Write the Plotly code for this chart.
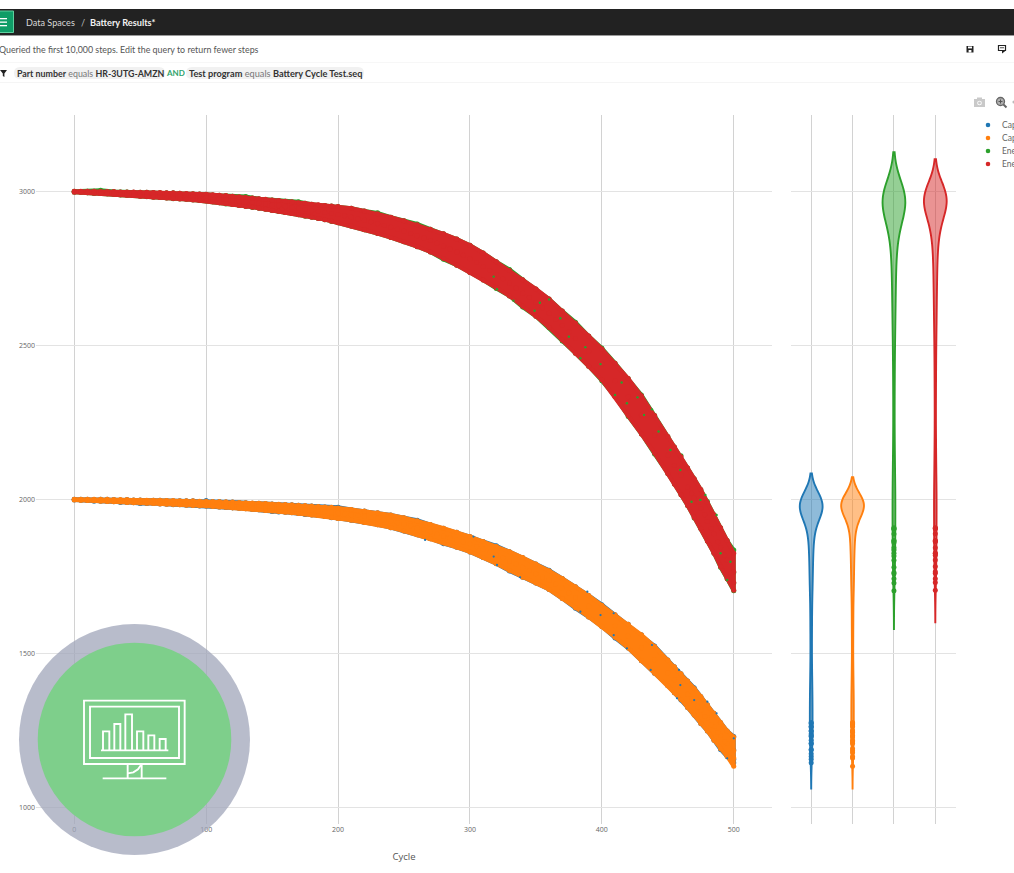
import plotly.graph_objects as go

W, H = 1014, 873

# ---- data -----------------------------------------------------------------------
cycles = [0,10,20,30,40,50,60,70,80,90,100,110,120,130,140,150,160,170,180,190,
          200,210,220,230,240,250,260,270,280,290,300,310,320,330,340,350,360,370,380,390,
          400,410,420,430,440,450,455,460,465,470,475,480,485,490,495,500]
cycles_between = [5,15,25,35,45,55,65,75,85,95,105,115,125,135,145,155,165,175,185,195,
                  205,215,225,235,245,255,265,275,285,295,305,315,325,335,345,355,365,375]
cycles_plateau = [5,15,25,35,45,55,65,75,85,95,105,115,125,135,145,155,165,175,185,195]
cycles_tail = [468,473,478,483,488,493,498,500]

energy_red_upper = [3000,3000,2999,2999,2998,2997,2996,2995,2994,2992,
    2990,2987,2984,2980,2976,2972,2968,2963,2958,2954,
    2951,2945,2936,2927,2916,2904,2891,2877,2862,2845,
    2825,2800,2771,2743,2713,2683,2650,2611,2572,2530,
    2488,2442,2392,2336,2272,2204,2170,2138,2102,2067,2032,1990,1950,1908,1866,1825]
energy_red_mid = [2999,2998,2996,2995,2993,2991,2989,2987,2985,2982,
    2980,2975,2970,2966,2961,2956,2950,2944,2937,2931,
    2925,2916,2906,2895,2883,2870,2856,2840,2822,2803,
    2781,2756,2730,2702,2670,2639,2604,2564,2522,2481,
    2439,2385,2333,2274,2209,2144,2110,2078,2040,2004,1970,1928,1888,1843,1803,1765]
energy_red_lower = [2997,2995,2993,2990,2987,2984,2981,2978,2975,2972,
    2969,2963,2957,2951,2945,2938,2931,2924,2916,2908,
    2898,2887,2875,2863,2850,2836,2820,2803,2782,2760,
    2736,2712,2687,2660,2627,2594,2558,2517,2474,2432,
    2388,2333,2272,2212,2150,2084,2050,2015,1980,1942,1905,1865,1825,1782,1742,1705]
energy_red_between = [2999,2997,2996,2994,2992,2990,2988,2986,2984,2981,
    2978,2973,2968,2964,2959,2953,2947,2941,2934,2928,
    2921,2911,2901,2889,2877,2863,2848,2831,2813,2792,
    2769,2743,2716,2686,2655,2622,2584,2543]
energy_red_plateau_high = [3000,3000,2999,2998,2998,2997,2996,2995,2993,2991,
    2989,2986,2982,2978,2974,2970,2966,2961,2956,2952]
energy_red_plateau_low = [2997,2994,2992,2989,2986,2983,2980,2977,2974,2971,
    2966,2960,2954,2948,2942,2935,2928,2920,2912,2903]
energy_red_tail = [2020,1990,1950,1905,1862,1818,1760,1730]

energy_green_upper = [3000,3000,3003,2999,2998,2997,2996,2995,2994,2992,
    2990,2987,2984,2983,2976,2972,2968,2966,2958,2954,
    2951,2945,2936,2930,2916,2904,2894,2877,2862,2845,
    2825,2800,2771,2746,2713,2683,2650,2611,2575,2530,
    2491,2442,2392,2339,2272,2204,2170,2141,2102,2067,2032,1993,1950,1908,1866,1835]
energy_green_mid = [2999,2997,2996,2994,2993,2990,2989,2986,2984,2982,
    2979,2975,2969,2966,2960,2956,2949,2944,2936,2931,
    2924,2916,2905,2895,2882,2870,2855,2840,2821,2803,
    2780,2756,2729,2702,2669,2639,2603,2564,2521,2481,
    2438,2385,2332,2274,2208,2144,2109,2078,2039,2004,1969,1928,1887,1843,1802,1762]
energy_green_lower = [2997,2995,2993,2990,2987,2984,2981,2978,2975,2972,
    2969,2963,2957,2951,2945,2938,2931,2924,2916,2908,
    2898,2887,2875,2863,2850,2836,2820,2803,2779,2760,
    2736,2712,2684,2660,2624,2594,2558,2514,2474,2432,
    2385,2333,2269,2212,2147,2084,2050,2015,1980,1939,1905,1865,1825,1779,1742,1703]
energy_green_between = [2998,2997,2995,2994,2992,2989,2988,2985,2984,2980,
    2978,2972,2968,2963,2959,2952,2947,2940,2934,2927,
    2921,2910,2901,2888,2877,2862,2848,2830,2813,2791,
    2769,2742,2716,2685,2655,2621,2584,2542]
energy_green_plateau_high = [2999,3000,2998,2998,2997,2997,2995,2995,2992,2991,
    2988,2986,2981,2978,2973,2970,2965,2961,2955,2952]
energy_green_plateau_low = [2997,2993,2992,2988,2986,2982,2980,2976,2974,2970,
    2966,2959,2954,2947,2942,2934,2928,2919,2912,2902]
energy_green_tail = [2018,1988,1948,1903,1860,1816,1758,1728]

capacity_orange_upper = [2000,2000,2000,1999,1999,1998,1997,1996,1995,1995,
    1994,1993,1991,1989,1987,1985,1983,1981,1978,1975,
    1972,1967,1962,1956,1949,1940,1930,1918,1906,1893,
    1879,1863,1847,1830,1811,1790,1768,1743,1716,1688,
    1656,1625,1594,1560,1522,1478,1456,1434,1410,1386,1360,1333,1305,1275,1248,1228]
capacity_orange_mid = [1999,1998,1997,1996,1995,1993,1992,1990,1989,1987,
    1986,1984,1982,1979,1977,1974,1971,1968,1964,1960,
    1955,1950,1944,1937,1929,1919,1908,1895,1881,1867,
    1855,1838,1819,1800,1779,1758,1737,1712,1681,1653,
    1622,1589,1556,1518,1479,1437,1414,1392,1367,1343,1316,1291,1262,1233,1207,1184]
capacity_orange_lower = [1998,1996,1994,1992,1990,1988,1986,1984,1982,1980,
    1978,1975,1972,1969,1966,1962,1958,1954,1949,1944,
    1938,1932,1925,1917,1908,1897,1885,1872,1858,1844,
    1829,1811,1791,1769,1747,1728,1707,1678,1648,1618,
    1587,1552,1517,1476,1435,1395,1372,1350,1324,1300,1272,1248,1218,1190,1165,1133]
capacity_orange_between = [1998,1997,1996,1995,1994,1992,1991,1989,1988,1986,
    1985,1983,1980,1978,1975,1972,1970,1966,1962,1958,
    1952,1947,1941,1933,1924,1914,1902,1888,1874,1861,
    1846,1829,1810,1790,1769,1748,1725,1697]
capacity_orange_plateau_high = [2000,2000,2000,1999,1998,1997,1997,1996,1995,1994,
    1993,1992,1990,1988,1986,1984,1982,1980,1977,1974]
capacity_orange_plateau_low = [1997,1995,1993,1991,1989,1987,1985,1983,1981,1979,
    1977,1974,1971,1968,1964,1960,1956,1952,1947,1941]
capacity_orange_tail = [1352,1325,1295,1268,1243,1213,1177,1160]

capacity_blue_upper = [2000,2000,2000,1999,1999,1998,1997,1996,1995,1995,
    1996,1993,1991,1989,1987,1985,1983,1981,1978,1975,
    1974,1967,1962,1956,1949,1940,1932,1918,1906,1893,
    1879,1863,1849,1830,1811,1790,1770,1743,1716,1688,
    1658,1625,1594,1560,1524,1478,1456,1434,1410,1388,1360,1333,1305,1275,1248,1230]
capacity_blue_mid = [1999,1997,1996,1995,1994,1992,1991,1989,1988,1986,
    1985,1983,1981,1978,1976,1973,1970,1967,1963,1959,
    1954,1949,1943,1936,1928,1918,1907,1894,1880,1866,
    1854,1837,1818,1799,1778,1757,1736,1711,1680,1652,
    1621,1588,1555,1517,1478,1436,1413,1391,1366,1342,1315,1290,1261,1232,1206,1186]
capacity_blue_lower = [1998,1996,1994,1992,1990,1986,1986,1984,1982,1980,
    1978,1975,1972,1969,1966,1960,1958,1954,1949,1944,
    1938,1932,1925,1917,1908,1897,1885,1872,1856,1844,
    1829,1811,1791,1767,1747,1728,1707,1678,1646,1618,
    1587,1550,1517,1476,1435,1395,1372,1348,1324,1300,1272,1248,1218,1188,1165,1145]
capacity_blue_between = [1998,1996,1995,1994,1993,1991,1990,1988,1987,1985,
    1984,1982,1979,1977,1974,1971,1969,1965,1961,1957,
    1951,1946,1940,1932,1923,1913,1901,1887,1873,1860,
    1845,1828,1809,1789,1768,1747,1724,1696]
capacity_blue_plateau_high = [2000,1999,2000,1998,1998,1996,1997,1995,1995,1993,
    1993,1991,1990,1987,1986,1983,1982,1979,1977,1973]
capacity_blue_plateau_low = [1997,1994,1993,1990,1989,1986,1985,1982,1981,1978,
    1977,1973,1971,1967,1964,1959,1956,1951,1947,1940]
capacity_blue_tail = [1350,1322,1290,1262,1238,1208,1174,1156]

# small green / blue dots that show through the top layer
energy_speck_cycle = [318,320.5,333,349,353,360,368.5,375,383.7,387.5,399,415,410,419,427,432,438,443,452,459.5,468,478.5,487,490,495,497.5,474.7]
energy_speck_value = [2723,2682,2645,2612,2638,2649,2588,2528,2458,2494,2439,2379,2339,2312,2331,2274,2292,2220,2160,2095,1992,2014,1949,1825,1738,1797,1998]
capacity_speck_cycle = [266,302.7,318,320.5,338,389,383.7,399,409,419,409,438,437,458.5,459.5,457,480,487,495,500,470]
capacity_speck_value = [1868,1879,1814,1787,1747,1700,1635,1624,1630,1516,1559,1527,1446,1446,1397,1354,1343,1305,1159,1224,1348]

series_names = ["Capacity (discharge)", "Capacity (charge)", "Energy (discharge)", "Energy (charge)"]
series_colors = ["#1f77b4", "#ff7f0e", "#2ca02c", "#d62728"]
series_rows = [
    (capacity_blue_upper, capacity_blue_mid, capacity_blue_lower, capacity_blue_between,
     capacity_blue_plateau_high, capacity_blue_plateau_low, capacity_blue_tail),
    (capacity_orange_upper, capacity_orange_mid, capacity_orange_lower, capacity_orange_between,
     capacity_orange_plateau_high, capacity_orange_plateau_low, capacity_orange_tail),
    (energy_green_upper, energy_green_mid, energy_green_lower, energy_green_between,
     energy_green_plateau_high, energy_green_plateau_low, energy_green_tail),
    (energy_red_upper, energy_red_mid, energy_red_lower, energy_red_between,
     energy_red_plateau_high, energy_red_plateau_low, energy_red_tail),
]
violin_bandwidths = [42, 36, 62, 52]
y_ticks = [1000, 1500, 2000, 2500, 3000]
x_ticks = [0, 100, 200, 300, 400, 500]

# ---- helpers: page pixels -> paper ----------------------------------------------
def X(p): return p / W
def Y(p): return 1 - p / H

shapes, notes = [], []

def rect(x0, y0, x1, y1, fill="rgba(0,0,0,0)", line=None, lw=0):
    shapes.append(dict(type="rect", xref="paper", yref="paper", layer="above",
                       x0=X(x0), x1=X(x1), y0=Y(y0), y1=Y(y1), fillcolor=fill,
                       line=dict(color=line or "rgba(0,0,0,0)", width=lw)))

def circle(cx, cy, r, fill="rgba(0,0,0,0)", line=None, lw=0):
    shapes.append(dict(type="circle", xref="paper", yref="paper", layer="above",
                       x0=X(cx-r), x1=X(cx+r), y0=Y(cy-r), y1=Y(cy+r), fillcolor=fill,
                       line=dict(color=line or "rgba(0,0,0,0)", width=lw)))

def poly(pts, fill="rgba(0,0,0,0)", line=None, lw=0, close=True):
    d = "M " + " L ".join(f"{X(a):.5f} {Y(b):.5f}" for a, b in pts) + (" Z" if close else "")
    shapes.append(dict(type="path", path=d, xref="paper", yref="paper", layer="above",
                       fillcolor=fill, line=dict(color=line or "rgba(0,0,0,0)", width=lw)))

def chip(x0, x1, y0, y1, fill):
    r = (y1 - y0) / 2
    d = (f"M {X(x0+r):.5f} {Y(y0):.5f} L {X(x1-r):.5f} {Y(y0):.5f} "
         f"Q {X(x1):.5f} {Y(y0):.5f} {X(x1):.5f} {Y(y0+r):.5f} "
         f"Q {X(x1):.5f} {Y(y1):.5f} {X(x1-r):.5f} {Y(y1):.5f} "
         f"L {X(x0+r):.5f} {Y(y1):.5f} "
         f"Q {X(x0):.5f} {Y(y1):.5f} {X(x0):.5f} {Y(y0+r):.5f} "
         f"Q {X(x0):.5f} {Y(y0):.5f} {X(x0+r):.5f} {Y(y0):.5f} Z")
    shapes.append(dict(type="path", path=d, xref="paper", yref="paper", layer="above",
                       fillcolor=fill, line=dict(width=0, color=fill)))

def text(x, y, s, size=10, color="#444", anchor="left"):
    notes.append(dict(xref="paper", yref="paper", x=X(x), y=Y(y), text=s, showarrow=False,
                      xanchor=anchor, yanchor="middle", align="left",
                      font=dict(size=size, color=color, family="Lato"),
                      borderpad=0, borderwidth=0))

# ---- page chrome ----------------------------------------------------------------
rect(0, 9, W, 35, fill="#222222")
rect(0, 35, W, 36, fill="#9a9a9a")
rect(-2, 11, 13.5, 32.5, fill="#0f9d67", line="#5fcf9f", lw=1)
for yy in (18, 21.5, 25):
    rect(0, yy, 7, yy + 1.3, fill="#ffffff")
text(26, 22, "Data Spaces", 9.1, "#d8d8d8")
text(80.5, 22, "/", 9.1, "#bbbbbb")
text(89.5, 22, "<b>Battery Results*</b>", 9.2, "#f2f2f2")
text(-1, 49, "Queried the first 10,000 steps. Edit the query to return fewer steps", 8.85, "#555555")
rect(0, 62, W, 62.6, fill="#f0f0f0")
rect(0, 82, W, 82.6, fill="#ececec")
poly([(0, 70), (7, 70), (4.4, 73.5), (4.4, 77), (2.8, 76), (2.8, 73.5)], fill="#222222")
chip(14, 165, 67, 79, "#f1f1f1")
chip(186, 364, 67, 79, "#f1f1f1")
text(17, 73, "<b>Part number</b> <span style='color:#777777'>equals</span> <b>HR-3UTG-AMZN</b>", 8.85, "#333333")
text(166, 73, "<b>AND</b>", 8.0, "#2fa36b")
text(189, 73, "<b>Test program</b> <span style='color:#777777'>equals</span> <b>Battery Cycle Test.seq</b>", 9.2, "#333333")

# toolbar icons
rect(966.5, 46, 973.5, 52.5, fill="#222222")
rect(968, 46.5, 972, 48.4, fill="#ffffff")
rect(968.6, 50, 971.4, 52.5, fill="#ffffff")
rect(998.5, 45.5, 1005.5, 50.5, fill="#ffffff", line="#222222", lw=1.2)
rect(1000, 47.4, 1004, 48.2, fill="#222222")
poly([(1002, 50.5), (1006, 50.5), (1002, 53.5)], fill="#222222")
# modebar style glyphs
rect(974, 99, 985, 107, fill="#c9c9c9")
rect(977, 97.5, 982, 99.5, fill="#c9c9c9")
circle(979.5, 103, 2.3, fill="#ffffff")
circle(979.5, 103, 1.4, fill="#c9c9c9")
circle(1000.5, 101.5, 4, fill="#b0b0b0", line="#666666", lw=1.3)
poly([(1003.5, 104.5), (1006.5, 107.5)], line="#666666", lw=2, close=False)
rect(998.5, 101, 1002.5, 102, fill="#555555")
rect(1000, 99.5, 1001, 103.5, fill="#555555")
circle(1014, 102, 1.6, fill="#bbbbbb")

# legend (dots and names at the page's tight row spacing)
for i, (name, color) in enumerate(zip(series_names, series_colors)):
    py = 125 + 13 * i
    circle(988, py, 2.3, fill=color)
    text(1002, py, name, 8.5, "#666666")

# ---- logo overlay ---------------------------------------------------------------
circle(134.5, 739.5, 115.5, fill="rgba(160,166,186,0.75)")
circle(134.5, 739.5, 96.8, fill="#7ecf8b")

def zx(v): return v / 3
def zy(v): return 610 + v / 3
ICON = dict(line="#ffffff", lw=1.9)
rect(zx(252), zy(272), zx(554), zy(462), **ICON)
rect(zx(270), zy(290), zx(537), zy(444), **ICON)
for a, b, top in [(309, 328, 364), (343, 361, 342), (376, 396, 313), (411, 430, 364), (445, 463, 376), (479, 497, 387)]:
    poly([(zx(a), zy(421)), (zx(a), zy(top)), (zx(b), zy(top)), (zx(b), zy(421))], close=False, **ICON)
poly([(zx(303), zy(421)), (zx(505), zy(421))], close=False, **ICON)
poly([(zx(383), zy(462)), (zx(383), zy(505))], close=False, **ICON)
poly([(zx(425), zy(462)), (zx(425), zy(505))], close=False, **ICON)
poly([(zx(308), zy(505)), (zx(499), zy(505))], close=False, **ICON)
poly([(zx(383), zy(490)), (zx(400), zy(487)), (zx(414), zy(478)), (zx(423), zy(465))], close=False, **ICON)

# ---- figure ---------------------------------------------------------------------
fig = go.Figure()

for name, color, rows, bw in zip(series_names, series_colors, series_rows, violin_bandwidths):
    up, mid, low, btw, high2, low2, tail = rows
    r, g, b = int(color[1:3], 16), int(color[3:5], 16), int(color[5:7], 16)
    samples = up + mid + low + btw + high2 + low2 + tail
    xs = cycles * 3 + cycles_between + cycles_plateau * 2 + cycles_tail
    fig.add_trace(go.Scatter(x=cycles + cycles[::-1], y=up + low[::-1], mode="lines", fill="toself",
                             fillcolor=color, line=dict(width=4, color=color), hoverinfo="skip",
                             showlegend=False, xaxis="x", yaxis="y"))
    fig.add_trace(go.Scatter(x=xs, y=samples, mode="markers", name=name,
                             marker=dict(color=color, size=5), showlegend=False,
                             xaxis="x", yaxis="y"))
    fig.add_trace(go.Violin(x=[name] * len(samples), y=samples, name=name,
                            line=dict(color=color, width=1.9), fillcolor=f"rgba({r},{g},{b},0.5)",
                            marker=dict(color=color, size=5), points="outliers", jitter=0, pointpos=0,
                            bandwidth=bw, width=0.55, scalemode="width", spanmode="soft",
                            showlegend=False, xaxis="x2", yaxis="y2"))

fig.add_trace(go.Scatter(x=energy_speck_cycle, y=energy_speck_value, mode="markers",
                         marker=dict(color="#2ca02c", size=2.4), showlegend=False, hoverinfo="skip",
                         xaxis="x", yaxis="y"))
fig.add_trace(go.Scatter(x=capacity_speck_cycle, y=capacity_speck_value, mode="markers",
                         marker=dict(color="#1f77b4", size=2.2), showlegend=False, hoverinfo="skip",
                         xaxis="x", yaxis="y"))

tick_font = dict(size=7, color="#666666", family="Open Sans")
grid_y = "#e3e3e3"
grid_x = "#d2d2d2"
Y_RANGE = [945.8, 3247.7]

fig.update_layout(
    width=W, height=H, autosize=False, showlegend=False,
    margin=dict(l=0, r=0, t=0, b=0, autoexpand=False),
    paper_bgcolor="#ffffff", plot_bgcolor="#ffffff",
    font=dict(family="Open Sans", color="#555555"),
    xaxis=dict(domain=[X(36), X(772)], range=[-29, 529], tickvals=x_ticks, gridcolor=grid_x,
               gridwidth=1, zeroline=False, showline=False, tickfont=tick_font, ticks="",
               title=dict(text="Cycle", font=dict(size=9.5, color="#555555", family="Open Sans"), standoff=20),
               anchor="y", automargin=False),
    yaxis=dict(domain=[Y(824), Y(115)], range=Y_RANGE, tickvals=y_ticks, gridcolor=grid_y,
               gridwidth=1, zeroline=False, showline=False, tickfont=tick_font, ticks="",
               anchor="x", automargin=False),
    xaxis2=dict(domain=[X(790.5), X(956)], type="category", categoryorder="array",
                categoryarray=series_names, range=[-0.5, 3.5], showticklabels=False, ticks="",
                gridcolor=grid_x, zeroline=False, showline=False, anchor="y2", automargin=False),
    yaxis2=dict(domain=[Y(824), Y(115)], range=Y_RANGE, tickvals=y_ticks, showticklabels=False, ticks="",
                gridcolor=grid_y, zeroline=False, showline=False, anchor="x2", automargin=False),
    violinmode="overlay",
    shapes=shapes, annotations=notes,
)

fig.write_html("out.html", config={"displayModeBar": False},
               post_script="document.body.style.margin='0';document.body.style.overflow='hidden';")
